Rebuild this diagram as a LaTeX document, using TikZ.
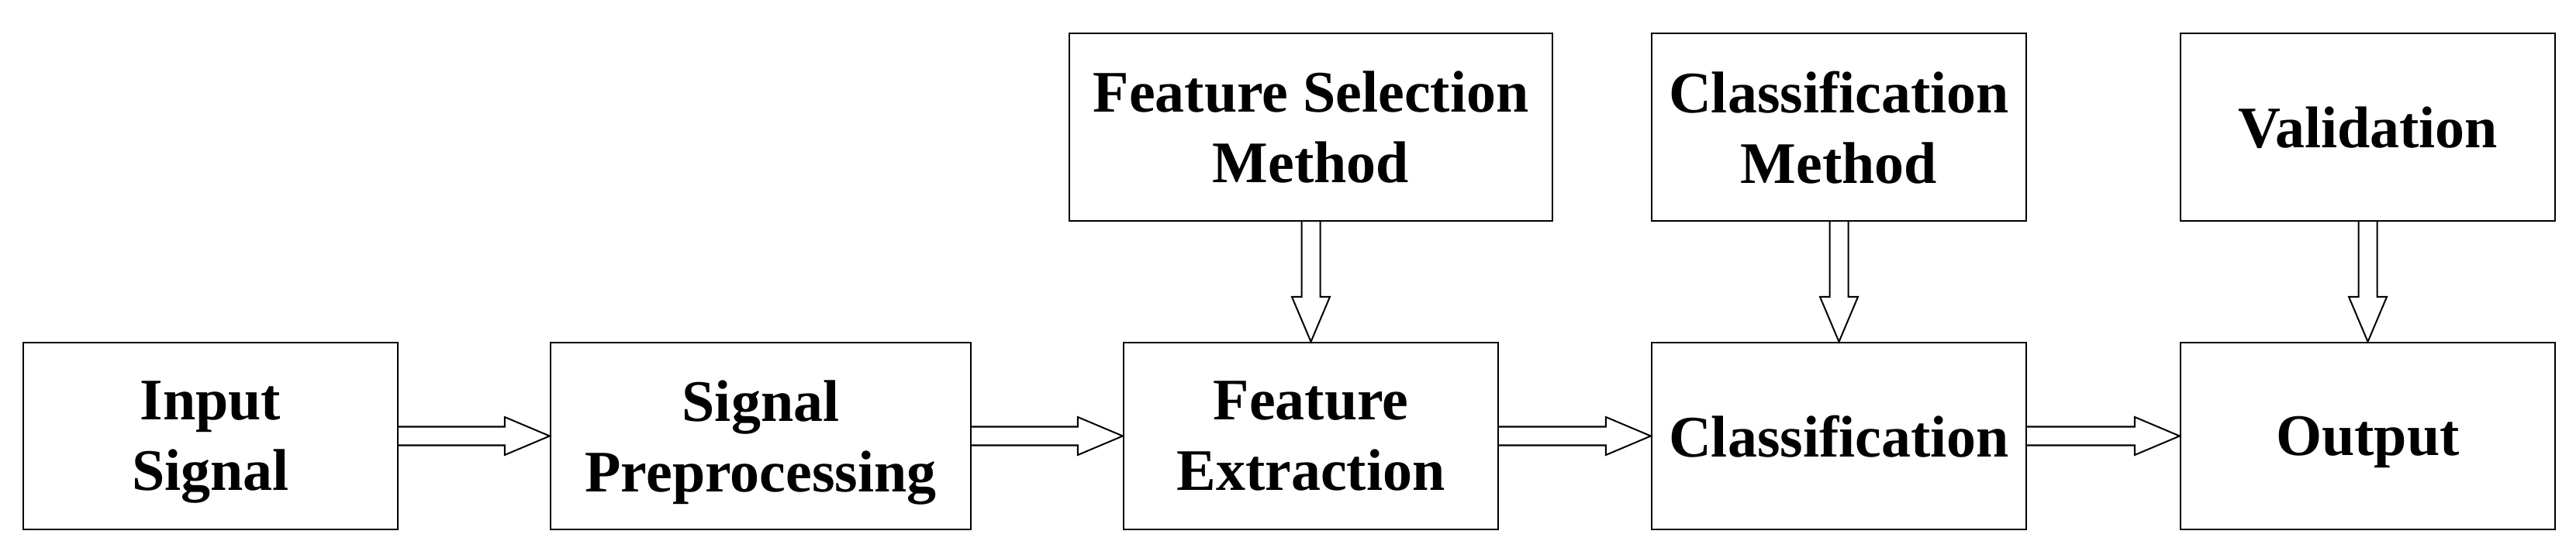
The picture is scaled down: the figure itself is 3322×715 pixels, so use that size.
\documentclass[tikz,border=0pt]{standalone}
\usepackage{fontspec}
\setmainfont{Liberation Serif}
\usepackage{tikz}
\usetikzlibrary{calc}
\usetikzlibrary{positioning}
\tikzset{
    mybox/.style = {rectangle, line width=0.57pt, draw=black, align=center, fill=white, minimum width=4.83cm, minimum height=2.41cm, inner sep=0pt, text depth=0pt, font=\bfseries\fontsize{21.6pt}{25.9pt}\selectfont, text=black},
    myboxw/.style = {mybox, minimum width=5.42cm},
    myboxx/.style = {mybox, minimum width=6.23cm},
    arrowh/.style = {line width=0.57pt, black, to path={($(\tikztostart.east)+(0,12)$) -- ($(\tikztotarget.west)+(-58,12)$) -- ++(0,12.5) -- (\tikztotarget.west) -- ($(\tikztotarget.west)+(-58,-24.5)$) -- ++(0,12.5) -- ($(\tikztostart.east)+(0,-12)$)}}, % right
    arrowv/.style = {line width=0.57pt, black, to path={($(\tikztostart.south)+(-12,0)$) -- ($(\tikztotarget.north)+(-12,58)$) -- ++(-12.5,0) -- (\tikztotarget.north) -- ($(\tikztotarget.north)+(24.5,58)$) -- ++(-12.5,0) -- ($(\tikztostart.south)+(12,0)$)}} % down
}

\begin{document}
\begin{tikzpicture}[x=0.01cm,y=0.01cm]
\useasboundingbox (0,0) rectangle (3322,715);
%
\node[mybox] at (271.5, 152.5) (inp) {Input\\Signal};
\node[myboxw] at (981, 152.5) (pre) {Signal\\Preprocessing};
\node[mybox] at (1690.5, 152.5) (fex) {Feature\\Extraction};
\node[mybox] at (2371.5, 152.5) (cls) {Classification};
\node[mybox] at (3053.5, 152.5) (out) {Output};
\node[myboxx] at (1690.5, 551) (fsm) {Feature Selection\\Method};
\node[mybox] at (2371.5, 551) (clm) {Classification\\Method};
\node[mybox] at (3053.5, 551) (val) {Validation};
%
\draw[arrowh] (inp) to (pre);
\draw[arrowh] (pre) to (fex);
\draw[arrowh] (fex) to (cls);
\draw[arrowh] (cls) to (out);
\draw[arrowv] (fsm) to (fex);
\draw[arrowv] (clm) to (cls);
\draw[arrowv] (val) to (out);
\end{tikzpicture}
\end{document}
